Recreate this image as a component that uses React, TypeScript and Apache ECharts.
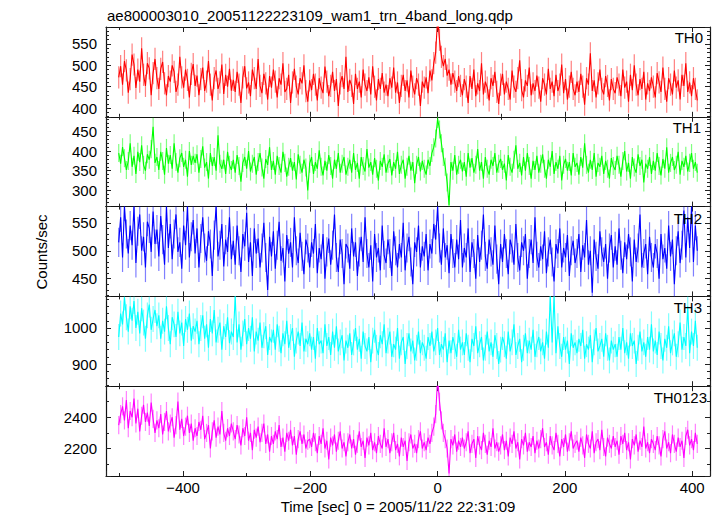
import React, { useEffect, useRef } from 'react';
import * as echarts from 'echarts';

const TITLE = 'ae800003010_20051122223109_wam1_trn_4band_long.qdp';
const X_LABEL = 'Time [sec] 0 = 2005/11/22 22:31:09';
const Y_LABEL = 'Counts/sec';
const BANDS = ['TH0', 'TH1', 'TH2', 'TH3', 'TH0123'];

// time bins: first bin centre and bin width (s)
const T_START = -501;
const BIN = 3;

const TH0 = [
  472, 498, 455, 510, 488, 436, 468, 525, 502, 447, 490, 462, 540, 478, 452, 505, 493, 430, 482, 515,
  470, 445, 492, 508, 458, 430, 475, 462, 500, 485, 438, 455, 520, 472, 448, 490, 466, 425, 480, 503,
  452, 476, 430, 468, 495, 440, 462, 510, 455, 418, 470, 488, 445, 460, 502, 433, 478, 450, 492, 441,
  466, 438, 485, 455, 412, 472, 498, 446, 460, 428, 490, 470, 445, 515, 452, 435, 480, 458, 420, 475,
  448, 490, 462, 425, 470, 455, 505, 438, 445, 478, 412, 460, 492, 450, 432, 470, 458, 500, 440, 415,
  465, 442, 480, 455, 418, 470, 448, 435, 497, 462, 428, 452, 485, 440, 468, 405, 458, 475, 445, 520,
  438, 466, 452, 410, 480, 445, 462, 425, 490, 455, 440, 472, 432, 498, 450, 418, 468, 445, 482, 436,
  455, 428, 470, 448, 495, 436, 460, 412, 452, 478, 440, 465, 425, 488, 450, 432, 470, 455, 405, 462,
  448, 472, 435, 488, 465, 505, 530, 610, 560, 520, 498, 515, 476, 490, 455, 482, 462, 440, 475, 452,
  430, 468, 450, 412, 475, 445, 490, 428, 458, 440, 505, 432, 462, 448, 418, 470, 452, 485, 438, 410,
  455, 480, 432, 462, 445, 420, 488, 450, 438, 470, 512, 442, 425, 465, 452, 495, 430, 458, 440, 476,
  448, 415, 470, 455, 432, 492, 445, 462, 428, 478, 440, 455, 502, 435, 468, 420, 450, 485, 445, 430,
  462, 438, 480, 450, 408, 470, 455, 528, 440, 465, 425, 458, 490, 445, 432, 475, 452, 418, 468, 445,
  435, 472, 455, 428, 490, 448, 462, 415, 478, 442, 500, 455, 430, 468, 445, 485, 420, 458, 440, 472,
  450, 425, 482, 460, 438, 495, 445, 415, 470, 455, 432, 488, 448, 465, 420, 478, 452, 505, 438, 460,
  428, 470, 445, 418,
];

const TH1 = [
  395, 368, 410, 382, 352, 375, 420, 360, 388, 342, 398, 372, 415, 365, 350, 392, 378, 405, 462, 370,
  385, 352, 398, 375, 340, 408, 368, 390, 355, 420, 372, 345, 382, 395, 360, 378, 335, 400, 365, 388,
  370, 392, 345, 380, 412, 358, 372, 330, 395, 362, 385, 350, 440, 368, 355, 378, 342, 398, 365, 352,
  378, 345, 390, 362, 322, 370, 385, 355, 400, 348, 368, 385, 340, 372, 395, 358, 330, 380, 365, 410,
  352, 375, 340, 388, 362, 345, 398, 370, 335, 360, 382, 350, 372, 328, 392, 365, 345, 378, 358, 300,
  368, 385, 342, 372, 355, 402, 360, 338, 375, 350, 390, 362, 330, 378, 355, 395, 345, 368, 385, 340,
  360, 378, 345, 395, 352, 370, 330, 385, 362, 348, 405, 358, 372, 340, 382, 355, 325, 375, 360, 392,
  345, 368, 380, 338, 372, 355, 398, 342, 365, 378, 330, 360, 388, 350, 372, 318, 365, 385, 348, 375,
  355, 340, 378, 362, 395, 410, 432, 482, 455, 420, 385, 360, 320, 262, 372, 350, 390, 340, 365, 378,
  348, 372, 335, 395, 358, 382, 345, 365, 405, 350, 372, 330, 385, 355, 340, 378, 362, 395, 345, 368,
  380, 352, 368, 325, 390, 360, 345, 378, 415, 355, 370, 338, 385, 350, 395, 362, 330, 375, 352, 388,
  345, 368, 392, 355, 330, 378, 360, 400, 342, 372, 355, 388, 325, 365, 380, 350, 372, 338, 395, 360,
  370, 340, 385, 358, 420, 365, 345, 378, 352, 395, 335, 370, 360, 388, 342, 375, 355, 330, 382, 362,
  352, 388, 365, 335, 375, 400, 348, 370, 330, 385, 358, 345, 392, 362, 378, 320, 368, 355, 385, 342,
  375, 350, 395, 362, 338, 380, 355, 410, 345, 370, 385, 352, 365, 398, 340, 375, 360, 388, 348, 370,
  395, 355, 372, 345,
];

const TH2 = [
  515, 560, 488, 579, 530, 495, 545, 510, 579, 478, 535, 565, 500, 525, 470, 552, 540, 498, 570, 512,
  538, 490, 562, 520, 475, 579, 505, 548, 485, 530, 565, 498, 515, 468, 545, 510, 579, 488, 525, 555,
  495, 540, 470, 522, 560, 505, 482, 535, 512, 455, 528, 579, 490, 510, 548, 472, 520, 498, 560, 485,
  518, 475, 545, 500, 462, 530, 508, 568, 480, 515, 455, 540, 495, 522, 470, 505, 550, 488, 430, 525,
  490, 535, 468, 510, 552, 482, 505, 445, 528, 495, 515, 470, 560, 500, 478, 532, 490, 458, 520, 505,
  470, 515, 495, 548, 460, 505, 485, 530, 450, 498, 522, 475, 510, 565, 488, 462, 520, 495, 440, 512,
  505, 468, 540, 490, 515, 455, 498, 525, 480, 560, 495, 470, 510, 445, 530, 488, 505, 465, 545, 492,
  478, 520, 495, 455, 535, 500, 470, 512, 488, 550, 465, 505, 525, 480, 440, 515, 498, 545, 470, 508,
  490, 530, 465, 512, 495, 548, 520, 579, 505, 475, 540, 488, 510, 460, 530, 495, 470, 520, 485, 555,
  470, 505, 488, 540, 462, 515, 495, 450, 528, 480, 510, 565, 490, 468, 520, 498, 475, 545, 485, 440,
  512, 480, 530, 495, 458, 520, 505, 475, 548, 488, 465, 515, 500, 530, 450, 495, 520, 478, 560, 490,
  470, 508, 485, 535, 460, 498, 520, 480, 445, 512, 495, 540, 470, 505, 488, 528, 455, 500, 518, 478,
  495, 530, 462, 510, 488, 555, 475, 500, 425, 520, 490, 468, 535, 498, 480, 512, 450, 505, 528, 470,
  508, 475, 540, 492, 460, 515, 485, 530, 498, 445, 520, 480, 505, 565, 470, 495, 512, 458, 525, 488,
  470, 512, 495, 450, 530, 485, 505, 468, 545, 490, 520, 440, 500, 535, 478, 510, 572, 488, 560, 505,
  579, 480, 545, 500,
];

const TH3 = [
  975, 1040, 1010, 1085, 1030, 990, 1060, 1020, 1075, 1000, 1045, 985, 1055, 1015, 970, 1035, 1065, 995, 1025, 1050,
  1005, 1035, 970, 1020, 990, 1060, 1000, 955, 1030, 1010, 975, 1045, 985, 1015, 950, 1025, 995, 1040, 965, 1005,
  990, 1020, 955, 1000, 1035, 970, 1010, 945, 1025, 985, 1050, 960, 995, 1015, 940, 1005, 975, 1030, 958, 990,
  975, 1088, 960, 1010, 940, 985, 1025, 955, 1000, 970, 1030, 935, 990, 965, 1015, 945, 980, 1005, 925, 975,
  960, 995, 940, 1010, 970, 930, 985, 955, 1020, 945, 975, 1000, 920, 965, 990, 950, 1015, 935, 970, 955,
  985, 940, 975, 915, 1000, 955, 965, 930, 1010, 950, 975, 925, 990, 945, 1005, 935, 960, 980, 910, 965,
  945, 985, 925, 960, 1000, 940, 970, 915, 990, 950, 935, 975, 905, 965, 995, 945, 925, 980, 955, 1010,
  930, 965, 990, 920, 955, 940, 1000, 915, 960, 975, 900, 950, 985, 935, 965, 910, 945, 990, 930, 960,
  945, 915, 975, 950, 990, 935, 960, 1000, 925, 955, 940, 985, 905, 965, 930, 975, 950, 920, 995, 940,
  960, 925, 985, 945, 905, 970, 950, 1005, 930, 955, 975, 910, 945, 990, 935, 960, 920, 980, 950, 900,
  940, 975, 955, 915, 990, 935, 960, 1010, 925, 950, 970, 905, 945, 985, 930, 965, 940, 995, 920, 955,
  975, 935, 960, 915, 990, 945, 1088, 960, 1088, 930, 1005, 950, 920, 975, 940, 965, 900, 985, 945, 960,
  930, 970, 950, 995, 915, 955, 940, 980, 905, 960, 1000, 935, 950, 970, 920, 985, 945, 910, 965, 940,
  955, 920, 975, 940, 1000, 930, 960, 915, 985, 950, 965, 900, 945, 990, 935, 960, 920, 975, 940, 1010,
  935, 965, 925, 990, 950, 910, 970, 945, 1005, 930, 960, 985, 920, 955, 1015, 940, 975, 950, 1060, 930,
  990, 950, 1020, 945,
];

const TH0123 = [
  2350, 2420, 2470, 2380, 2510, 2330, 2440, 2400, 2520, 2360, 2455, 2310, 2410, 2480, 2370, 2430, 2345, 2495, 2390, 2300,
  2380, 2330, 2420, 2290, 2370, 2440, 2310, 2360, 2400, 2270, 2350, 2500, 2320, 2390, 2280, 2340, 2410, 2300, 2360, 2250,
  2330, 2280, 2370, 2320, 2410, 2260, 2300, 2350, 2200, 2310, 2380, 2270, 2340, 2290, 2440, 2300, 2250, 2330, 2280, 2360,
  2310, 2260, 2350, 2290, 2220, 2330, 2280, 2400, 2250, 2300, 2190, 2320, 2270, 2340, 2240, 2300, 2360, 2230, 2290, 2180,
  2280, 2230, 2310, 2260, 2350, 2210, 2270, 2180, 2300, 2250, 2320, 2220, 2280, 2160, 2260, 2310, 2230, 2290, 2200, 2250,
  2260, 2210, 2300, 2240, 2170, 2280, 2230, 2330, 2200, 2250, 2130, 2270, 2220, 2290, 2180, 2250, 2310, 2200, 2240, 2150,
  2240, 2290, 2200, 2260, 2160, 2230, 2310, 2210, 2250, 2140, 2270, 2220, 2300, 2190, 2240, 2170, 2280, 2230, 2200, 2330,
  2210, 2260, 2170, 2240, 2300, 2190, 2230, 2150, 2270, 2210, 2250, 2120, 2240, 2290, 2200, 2230, 2170, 2260, 2310, 2200,
  2240, 2190, 2270, 2230, 2300, 2340, 2420, 2650, 2500, 2380, 2300, 2260, 2200, 2040, 2260, 2220, 2290, 2180, 2250, 2210,
  2270, 2200, 2240, 2310, 2170, 2230, 2260, 2140, 2280, 2220, 2190, 2300, 2230, 2160, 2250, 2210, 2330, 2200, 2240, 2180,
  2220, 2290, 2190, 2250, 2150, 2270, 2230, 2310, 2200, 2240, 2130, 2260, 2220, 2300, 2180, 2240, 2210, 2280, 2170, 2250,
  2200, 2260, 2330, 2210, 2240, 2160, 2280, 2220, 2190, 2300, 2230, 2150, 2260, 2210, 2290, 2180, 2240, 2310, 2200, 2230,
  2250, 2180, 2270, 2220, 2140, 2290, 2230, 2200, 2310, 2170, 2240, 2260, 2190, 2320, 2210, 2150, 2270, 2230, 2200, 2280,
  2210, 2250, 2160, 2280, 2230, 2300, 2190, 2240, 2130, 2260, 2220, 2290, 2180, 2250, 2210, 2340, 2200, 2240, 2170, 2260,
  2230, 2190, 2280, 2220, 2150, 2260, 2310, 2200, 2240, 2170, 2290, 2230, 2180, 2270, 2210, 2250, 2140, 2280, 2320, 2220,
  2260, 2190, 2300, 2230,
];

const SERIES_VALUES = [TH0, TH1, TH2, TH3, TH0123];
// typical 1-sigma error bar half-widths per band (counts/sec)
const ERRORS = [26, 23, 26, 36, 58];

// axis ranges, tick steps
const X_RANGE = [-521, 428];
const X_STEP = 200;
const Y_RANGES = [
  [379.7, 589.7],
  [258.6, 487.4],
  [418.4, 579],
  [838.4, 1087.7],
  [2024, 2599],
];
const Y_STEPS = [50, 50, 50, 100, 200];
const Y_MINOR_SPLITS = [5, 5, 5, 5, 2];
const COLORS = ['#ff0000', '#00ff00', '#0000ff', '#00ffff', '#ff00ff'];

const FONT = '"Liberation Sans", Arial, Helvetica, sans-serif';

function buildOption() {
  const left = 106;
  const right = 8;
  const top0 = 27;
  const h = 89.8;
  const grids: any[] = [];
  const xAxes: any[] = [];
  const yAxes: any[] = [];
  const series: any[] = [];
  const axisLine = { show: true, onZero: false, lineStyle: { color: '#111', width: 1.2 } };
  const tickStyle = { color: '#222', width: 1 };

  for (let g = 0; g < 5; g++) {
    grids.push({ left, right, top: top0 + g * h, height: h, containLabel: false });
    const xCommon = {
      type: 'value',
      gridIndex: g,
      min: X_RANGE[0],
      max: X_RANGE[1],
      minInterval: X_STEP,
      maxInterval: X_STEP,
      splitLine: { show: false },
      axisLine,
      axisTick: { show: true, inside: true, length: 5, lineStyle: tickStyle },
      minorTick: { show: true, splitNumber: 2, length: 3, lineStyle: tickStyle },
    };
    xAxes.push({
      ...xCommon,
      position: 'bottom',
      axisLabel:
        g === 4
          ? {
              show: true,
              showMinLabel: false,
              showMaxLabel: false,
              margin: 4,
              color: '#000',
              fontSize: 15,
              fontFamily: FONT,
              formatter: (v: number) =>
                Math.abs(Math.round(v) % X_STEP) === 0 && Math.abs(v - Math.round(v)) < 1e-6
                  ? String(Math.round(v)).replace('-', '\u2212')
                  : '',
            }
          : { show: false },
    });
    xAxes.push({ ...xCommon, position: 'top', axisLabel: { show: false } });

    const step = Y_STEPS[g];
    const [ymin, ymax] = Y_RANGES[g];
    const yCommon = {
      type: 'value',
      gridIndex: g,
      min: ymin,
      max: ymax,
      minInterval: step,
      maxInterval: step,
      scale: true,
      splitLine: { show: false },
      axisLine,
      axisTick: { show: true, inside: true, length: 5, lineStyle: tickStyle },
      minorTick: { show: true, splitNumber: Y_MINOR_SPLITS[g], length: 3, lineStyle: tickStyle },
    };
    yAxes.push({
      ...yCommon,
      position: 'left',
      axisLabel: {
        show: true,
        showMinLabel: false,
        showMaxLabel: false,
        margin: 9,
        color: '#000',
        fontSize: 15,
        fontFamily: FONT,
        formatter: (v: number) => (Math.abs(v - Math.round(v / step) * step) < 1e-6 ? String(v) : ''),
      },
    });
    yAxes.push({ ...yCommon, position: 'right', axisLabel: { show: false } });

    const data = SERIES_VALUES[g].map((v, i) => [T_START + i * BIN, v]);
    const err = ERRORS[g];
    const color = COLORS[g];
    // error bars
    series.push({
      type: 'custom',
      xAxisIndex: 2 * g,
      yAxisIndex: 2 * g,
      data,
      z: 1,
      silent: true,
      encode: { x: 0, y: 1 },
      renderItem: (params: any, api: any) => {
        const t = api.value(0);
        const v = api.value(1);
        const lo = Math.max(v - err, ymin);
        const hi = Math.min(v + err, ymax);
        if (hi <= lo) return null;
        const p1 = api.coord([t, lo]);
        const p2 = api.coord([t, hi]);
        return {
          type: 'line',
          shape: { x1: p1[0], y1: p1[1], x2: p2[0], y2: p2[1] },
          style: { stroke: color, lineWidth: 1.2, opacity: 0.5 },
        };
      },
    });
    series.push({
      type: 'line',
      xAxisIndex: 2 * g,
      yAxisIndex: 2 * g,
      data,
      symbol: 'none',
      showSymbol: false,
      clip: true,
      z: 2,
      lineStyle: { color, width: 1.1 },
    });
  }

  const labelPos = [
    { x: 703, y: 37.5 },
    { x: 701, y: 127 },
    { x: 702, y: 218 },
    { x: 702, y: 307.5 },
    { x: 707, y: 397 },
  ];

  const graphic: any[] = [
    {
      type: 'text',
      x: 107,
      y: 15.5,
      style: { text: TITLE, fill: '#000', font: `15px ${FONT}`, textAlign: 'left', textVerticalAlign: 'middle' },
    },
    {
      type: 'text',
      x: 398,
      y: 506.5,
      style: { text: X_LABEL, fill: '#000', font: `15px ${FONT}`, textAlign: 'center', textVerticalAlign: 'middle' },
    },
    {
      type: 'text',
      x: 41.5,
      y: 252,
      rotation: Math.PI / 2,
      style: { text: Y_LABEL, fill: '#000', font: `15px ${FONT}`, textAlign: 'center', textVerticalAlign: 'middle' },
    },
    ...BANDS.map((b, i) => ({
      type: 'text',
      x: labelPos[i].x,
      y: labelPos[i].y,
      z: 10,
      style: { text: b, fill: '#000', font: `15px ${FONT}`, textAlign: 'right', textVerticalAlign: 'middle' },
    })),
  ];

  return {
    animation: false,
    backgroundColor: '#ffffff',
    textStyle: { fontFamily: FONT },
    grid: grids,
    xAxis: xAxes,
    yAxis: yAxes,
    series,
    graphic,
  };
}

export default function App() {
  const ref = useRef<HTMLDivElement>(null);
  useEffect(() => {
    document.body.style.margin = '0';
    if (!ref.current) return;
    const chart = echarts.init(ref.current, undefined, { renderer: 'svg' });
    chart.setOption(buildOption() as any);
    return () => chart.dispose();
  }, []);
  return <div ref={ref} style={{ position: 'fixed', left: 0, top: 0, width: 718, height: 516 }} />;
}
